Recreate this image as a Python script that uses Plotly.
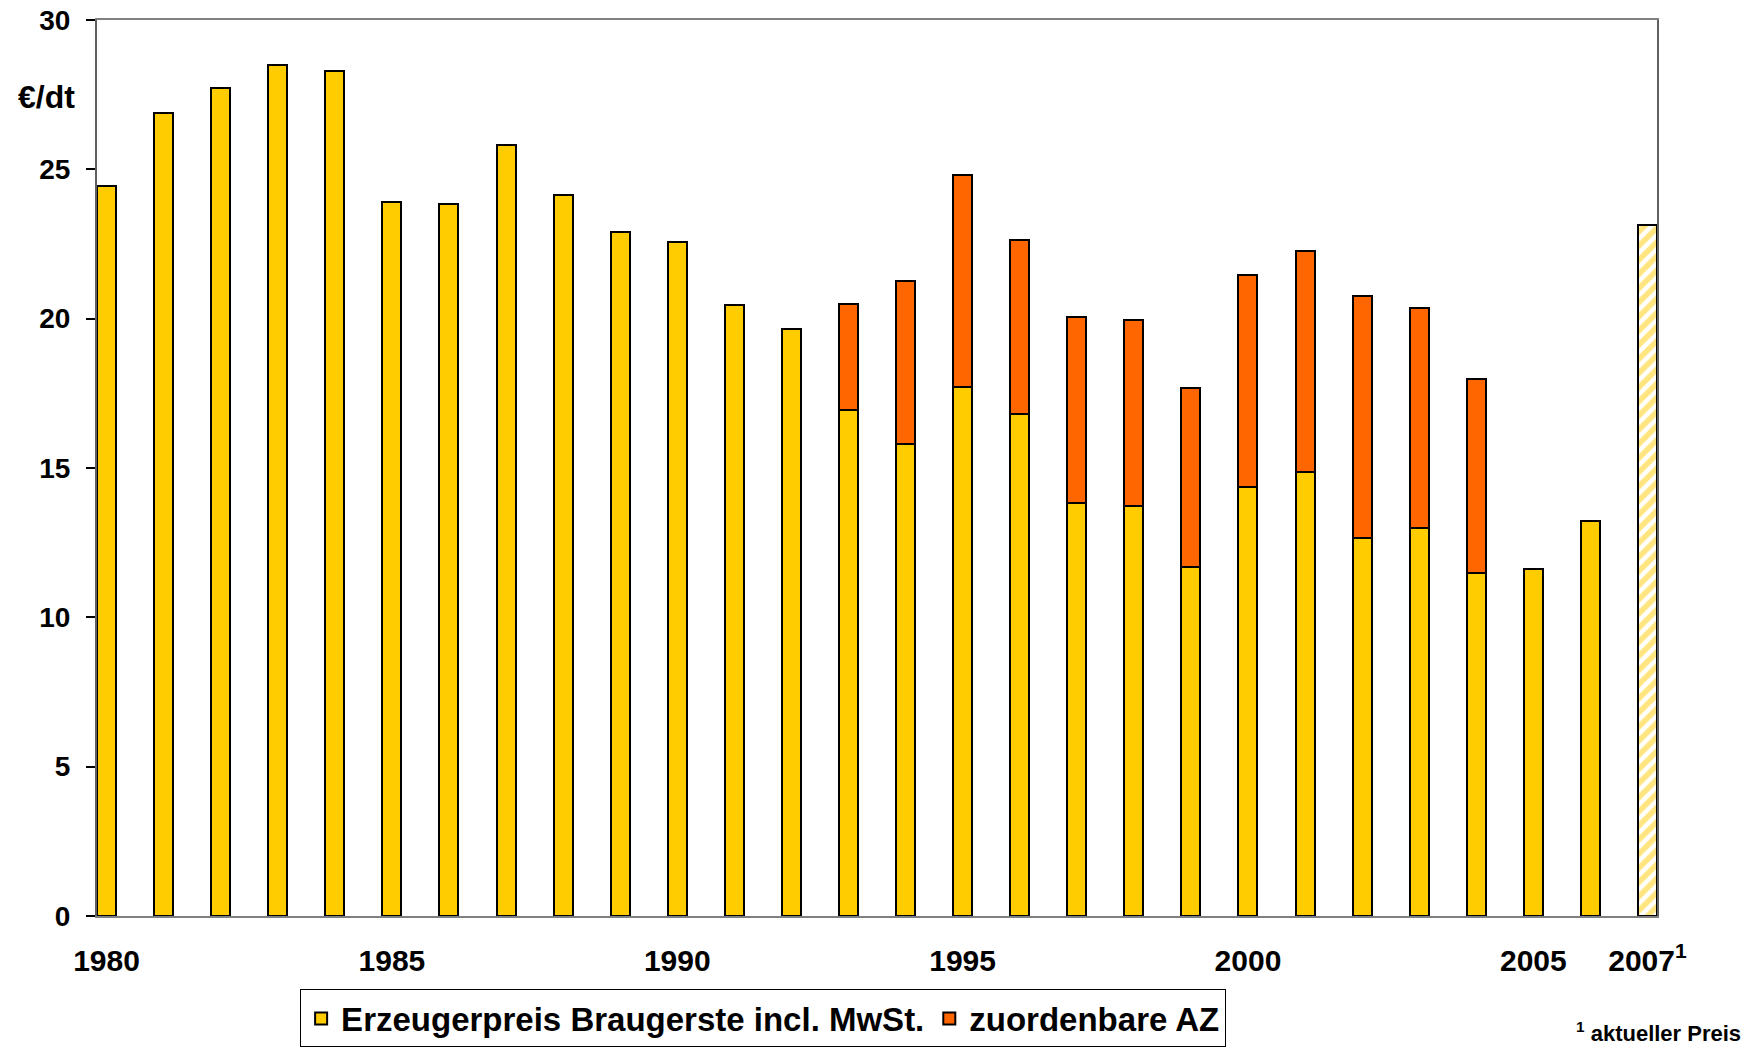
import plotly.graph_objects as go

years = list(range(1980, 2007))
erzeugerpreis = [24.45, 26.89, 27.71, 28.49, 28.29, 23.91, 23.83, 25.82, 24.15, 22.90,
                 22.56, 20.47, 19.65, 16.93, 15.79, 17.72, 16.80, 13.82, 13.72, 11.69,
                 14.35, 14.85, 12.67, 13.00, 11.50, 11.62, 13.22]
az_years = list(range(1993, 2005))
zuordenbare_az = [3.55, 5.47, 7.08, 5.83, 6.22, 6.23, 5.99, 7.11, 7.40, 8.09, 7.36, 6.48]
year_2007 = [2007]
preis_2007 = [23.12]

tick_years = [1980, 1985, 1990, 1995, 2000, 2005, 2007]
tick_labels = ["1980", "1985", "1990", "1995", "2000", "2005", "2007<sup>1</sup>"]

YELLOW = "#FFCC00"
ORANGE = "#FF6600"
FONT = "Liberation Sans"

fig = go.Figure()

fig.add_trace(go.Bar(
    x=years, y=erzeugerpreis, name="Erzeugerpreis Braugerste incl. MwSt.",
    marker=dict(color=YELLOW, line=dict(color="black", width=2)),
))
fig.add_trace(go.Bar(
    x=az_years, y=zuordenbare_az, name="zuordenbare AZ",
    marker=dict(color=ORANGE, line=dict(color="black", width=2)),
))
# 2007: current price, hatched
fig.add_trace(go.Bar(
    x=year_2007, y=preis_2007, showlegend=False,
    marker=dict(color="white", line=dict(color="black", width=2),
                pattern=dict(shape="/", fgcolor=YELLOW, bgcolor="white", size=10, solidity=0.55)),
))

# page body has an 8px margin, so the figure is 8px smaller than the window
fig.update_layout(
    width=1743, height=1039,
    barmode="stack", bargap=0.667,
    plot_bgcolor="white", paper_bgcolor="white",
    margin=dict(l=89, r=94, t=12, b=131, autoexpand=False),
    font=dict(family=FONT, color="black", weight="bold"),
    legend=dict(
        orientation="h", x=0.427, y=-0.082, xanchor="center", yanchor="top",
        font=dict(size=33, family=FONT, weight="bold"),
        bordercolor="black", borderwidth=1, bgcolor="white",
        itemsizing="constant", traceorder="normal",
    ),
)

fig.update_xaxes(
    range=[1979.833, 2007.167],
    tickvals=tick_years, ticktext=tick_labels,
    tickfont=dict(size=30, family=FONT, weight="bold"),
    ticks="", ticklabelstandoff=17, ticklabeloverflow="allow",
    showline=True, linecolor="#808080", linewidth=2, mirror=True,
    showgrid=False, zeroline=False,
)
fig.update_yaxes(
    range=[0, 30], dtick=5,
    tickfont=dict(size=28, family=FONT, weight="bold"),
    ticks="outside", ticklen=9, tickcolor="black", tickwidth=2,
    ticklabelstandoff=10, ticklabeloverflow="allow",
    showline=True, linecolor="#606060", linewidth=2, mirror=True,
    showgrid=False, zeroline=False,
)

fig.add_annotation(
    text="€/dt", xref="paper", yref="paper", x=-0.052, y=0.914,
    xanchor="left", yanchor="middle", showarrow=False,
    font=dict(size=32, family=FONT, weight="bold"),
)
fig.add_annotation(
    text="<sup>1</sup> aktueller Preis", xref="paper", yref="paper", x=1.0545, y=-0.130,
    xanchor="right", yanchor="middle", showarrow=False, borderpad=0,
    font=dict(size=22, family=FONT, weight="bold"),
)

fig.write_html("out.html")
